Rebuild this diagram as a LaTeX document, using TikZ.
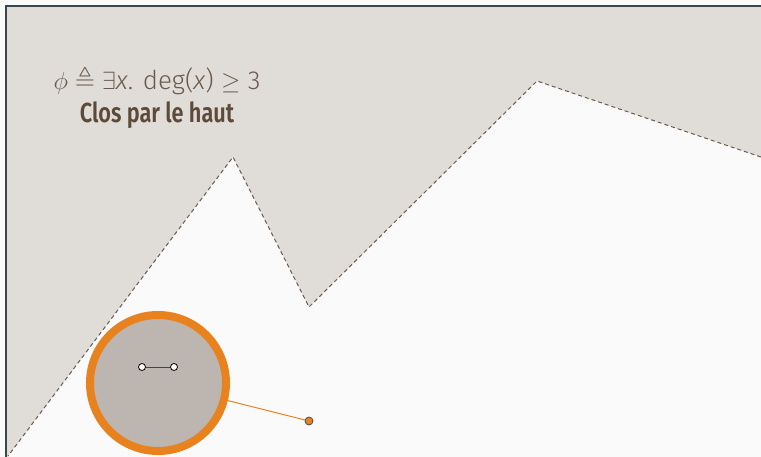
\documentclass[tikz,border=0pt]{standalone}
\usepackage{amsmath}
\usepackage{amssymb}
\usepackage{fontspec}
\setmainfont{Fira Sans}
\newfontfamily\lightfont[UprightFont=* Light, ItalicFont=* Light Italic]{Fira Sans}
\newfontfamily\boldfont[UprightFont=* SemiBold]{Fira Sans}
\usepackage{tikz}
\definecolor{paper}{HTML}{FAFAFA}
\definecolor{upset}{HTML}{E0DDD8}
\definecolor{frame}{HTML}{37474F}
\definecolor{ink}{HTML}{6B5B4E}
\definecolor{title}{HTML}{5C4A3A}
\definecolor{lens}{HTML}{BDB5AF}
\definecolor{accent}{HTML}{E8821E}
\tikzset{
	vertex/.style={circle, draw=black, fill=white, inner sep=0pt, minimum size=7pt, line width=0.8pt},
	probe/.style={circle, draw=frame, fill=accent, inner sep=0pt, minimum size=8pt, line width=0.7pt},
	border/.style={dashed, dash pattern=on 4pt off 3pt, ink, line width=1pt}
}
\begin{document}
\begin{tikzpicture}[x=1pt, y=-1pt]
				\useasboundingbox[fill=paper] (0,0) rectangle (761,457);
				% Upward closed region
				\fill[upset] (7,6) -- (761,6) -- (761,157) -- (537,81) -- (309,307) -- (233,157) -- (8,456) -- (7,457) -- cycle;
				\draw[border] (761,157) -- (537,81) -- (309,307) -- (233,157) -- (8,456);
				% Frame
				\draw[frame, line width=2pt] (6,457) -- (6,6) -- (761,6);
				% Labels
				\node[ink, font=\lightfont\fontsize{26}{30}\selectfont] (formula) at (157,80)
					{$\phi \triangleq \exists$\textit{x}. deg(\textit{x}) $\geq$ 3};
				\node[title, font=\boldfont\fontsize{27.5}{32}\selectfont] (caption) at (157,115)
					{\scalebox{0.79}[1]{Clos par le haut}};
				% Zoom on one graph
				\node[probe] (pt) at (309,421) {};
				\node[circle, draw=accent, fill=lens, line width=8pt, minimum size=136pt, inner sep=0pt] (zoom) at (158,383) {};
				\draw[accent, line width=1pt] (zoom) -- (pt);
				\node[vertex] (u) at (142,367) {};
				\node[vertex] (v) at (174,367) {};
				\draw[frame, line width=1pt] (u) -- (v);
			\end{tikzpicture}
\end{document}
